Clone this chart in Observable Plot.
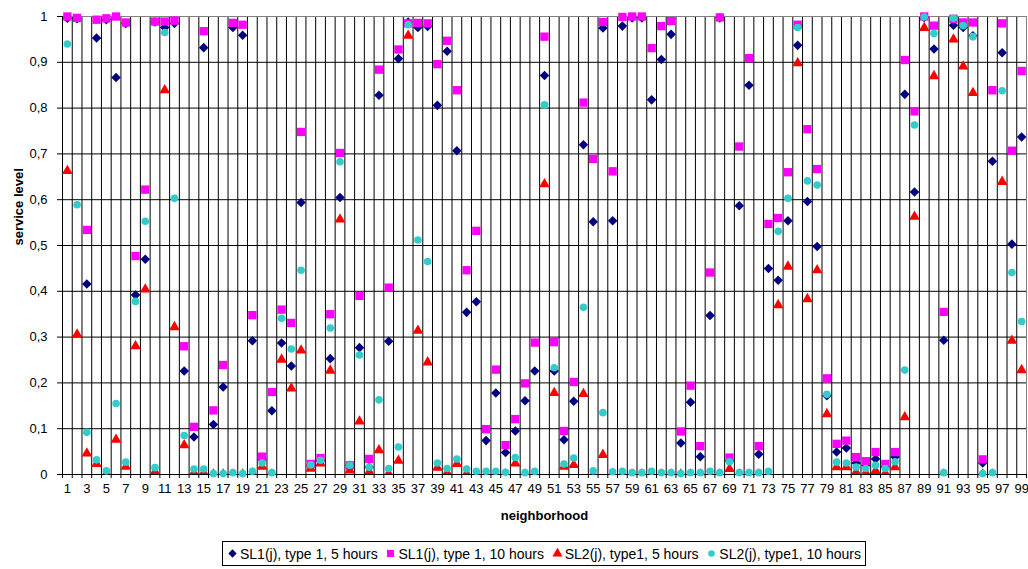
<!DOCTYPE html>
<html>
<head>
<meta charset="utf-8">
<script src="https://cdn.jsdelivr.net/npm/d3@7"></script>
<script src="https://cdn.jsdelivr.net/npm/@observablehq/plot@0.6"></script>
<style>
  html, body { margin: 0; padding: 0; background: #fff; }
  body { width: 1028px; height: 569px; overflow: hidden; font-family: "Liberation Sans", Arial, sans-serif; }
  #legend {
    position: absolute; left: 222px; top: 541px; width: 644px; height: 25px;
    border: 1px solid #000; box-sizing: border-box;
    display: flex; align-items: center; justify-content: space-between; padding: 0 4px;
    font-size: 14px; color: #000; white-space: nowrap; background: #fff;
  }
  #legend .item { display: flex; align-items: center; gap: 2px; }
  #legend svg { display: block; }
</style>
</head>
<body>
<div id="chart"></div>
<div id="legend"></div>
<script>
// Neighborhood ids 1..99
const neighborhoods = d3.range(1, 100);

// SL1(j), type 1, 5 hours
const sl1Type1_5h = [
  0.996, 0.995, 0.416, 0.953, 0.993, 0.867, 0.985, 0.392, 0.470, 0.988,
  0.976, 0.985, 0.226, 0.082, 0.932, 0.109, 0.191, 0.976, 0.959, 0.292,
  0.032, 0.139, 0.287, 0.237, 0.594, 0.020, 0.030, 0.253, 0.605, 0.020,
  0.277, 0.016, 0.828, 0.291, 0.908, 0.988, 0.976, 0.978, 0.806, 0.924,
  0.707, 0.354, 0.377, 0.074, 0.178, 0.048, 0.095, 0.161, 0.226, 0.871,
  0.226, 0.076, 0.160, 0.720, 0.552, 0.975, 0.554, 0.979, 0.997, 0.997,
  0.818, 0.906, 0.961, 0.069, 0.158, 0.039, 0.347, 0.997, 0.030, 0.587,
  0.850, 0.044, 0.450, 0.424, 0.554, 0.937, 0.596, 0.498, 0.172, 0.049,
  0.058, 0.025, 0.020, 0.034, 0.017, 0.038, 0.830, 0.617, 0.998, 0.929,
  0.293, 0.981, 0.976, 0.958, 0.025, 0.684, 0.921, 0.503, 0.737
];

// SL1(j), type 1, 10 hours
const sl1Type1_10h = [
  1.000, 0.997, 0.534, 0.993, 0.996, 1.000, 0.987, 0.477, 0.622, 0.989,
  0.989, 0.991, 0.280, 0.104, 0.968, 0.140, 0.239, 0.986, 0.982, 0.348,
  0.039, 0.180, 0.360, 0.331, 0.748, 0.023, 0.036, 0.350, 0.702, 0.020,
  0.390, 0.034, 0.884, 0.408, 0.928, 0.985, 0.986, 0.985, 0.896, 0.947,
  0.839, 0.446, 0.532, 0.099, 0.229, 0.064, 0.121, 0.199, 0.288, 0.956,
  0.289, 0.095, 0.202, 0.812, 0.689, 0.988, 0.662, 0.999, 1.000, 1.000,
  0.931, 0.979, 0.990, 0.094, 0.194, 0.062, 0.441, 0.998, 0.037, 0.716,
  0.909, 0.062, 0.547, 0.560, 0.660, 0.982, 0.754, 0.667, 0.210, 0.067,
  0.074, 0.038, 0.029, 0.049, 0.023, 0.049, 0.905, 0.793, 1.000, 0.980,
  0.355, 0.995, 0.987, 0.987, 0.033, 0.839, 0.985, 0.707, 0.881
];

// SL2(j), type1, 5 hours
const sl2Type1_5h = [
  0.663, 0.306, 0.046, 0.023, 0.002, 0.076, 0.017, 0.280, 0.404, 0.006,
  0.839, 0.322, 0.064, 0.004, 0.004, 0.000, 0.000, 0.000, 0.000, 0.002,
  0.017, 0.000, 0.251, 0.188, 0.271, 0.013, 0.024, 0.227, 0.557, 0.009,
  0.116, 0.006, 0.053, 0.002, 0.030, 0.958, 0.314, 0.245, 0.015, 0.004,
  0.023, 0.002, 0.000, 0.000, 0.000, 0.000, 0.024, 0.000, 0.000, 0.634,
  0.178, 0.017, 0.021, 0.176, 0.000, 0.043, 0.000, 0.000, 0.000, 0.000,
  0.000, 0.000, 0.000, 0.000, 0.000, 0.000, 0.000, 0.000, 0.012, 0.000,
  0.000, 0.000, 0.000, 0.370, 0.454, 0.898, 0.383, 0.446, 0.132, 0.016,
  0.016, 0.005, 0.004, 0.008, 0.003, 0.016, 0.125, 0.563, 0.975, 0.870,
  0.000, 0.950, 0.891, 0.833, 0.000, 0.000, 0.639, 0.292, 0.228
];

// SL2(j), type1, 10 hours
const sl2Type1_10h = [
  0.940, 0.589, 0.092, 0.032, 0.008, 0.155, 0.027, 0.378, 0.553, 0.015,
  0.965, 0.603, 0.085, 0.012, 0.012, 0.002, 0.002, 0.004, 0.002, 0.007,
  0.025, 0.004, 0.341, 0.274, 0.446, 0.021, 0.031, 0.320, 0.683, 0.020,
  0.261, 0.016, 0.163, 0.013, 0.060, 0.982, 0.512, 0.465, 0.025, 0.013,
  0.034, 0.012, 0.007, 0.007, 0.007, 0.005, 0.037, 0.004, 0.007, 0.807,
  0.233, 0.023, 0.036, 0.365, 0.008, 0.135, 0.006, 0.007, 0.004, 0.004,
  0.007, 0.004, 0.004, 0.002, 0.004, 0.004, 0.007, 0.004, 0.028, 0.004,
  0.004, 0.004, 0.007, 0.531, 0.603, 0.976, 0.641, 0.632, 0.175, 0.027,
  0.025, 0.016, 0.013, 0.020, 0.013, 0.028, 0.228, 0.763, 0.999, 0.963,
  0.004, 0.996, 0.980, 0.956, 0.002, 0.004, 0.838, 0.441, 0.334
];

// Axis ticks
const xTickLabels = d3.range(1, 100, 2);
const yTicks = [0, 0.1, 0.2, 0.3, 0.4, 0.5, 0.6, 0.7, 0.8, 0.9, 1];
const categoryBounds = d3.range(0.5, 100, 1);

const seriesInfo = [
  {name: "SL1(j), type 1, 5 hours",  values: sl1Type1_5h,  symbol: "diamond2", color: "#000080", r: 4.3},
  {name: "SL1(j), type 1, 10 hours", values: sl1Type1_10h, symbol: "square",   color: "#ff00ff", r: 4.7},
  {name: "SL2(j), type1, 5 hours",   values: sl2Type1_5h,  symbol: "triangle", color: "#ff0000", r: 4.0},
  {name: "SL2(j), type1, 10 hours",  values: sl2Type1_10h, symbol: "circle",   color: "#33cccc", r: 3.8}
];

const rowsOf = (values) => neighborhoods.map((n, i) => ({n, v: values[i]}));
const fmtY = (d) => d === 0 ? "0" : d === 1 ? "1" : d.toFixed(1).replace(".", ",");

const pointMarks = seriesInfo.map((s) =>
  Plot.dot(rowsOf(s.values), {
    x: "n", y: "v", symbol: s.symbol, fill: s.color, r: s.r, stroke: "none",
    clip: s.symbol === "triangle"
  })
);

const chart = Plot.plot({
  width: 1028,
  height: 532,
  marginLeft: 62,
  marginRight: 2,
  marginTop: 16,
  marginBottom: 58,
  style: {fontFamily: "'Liberation Sans', Arial, sans-serif", fontSize: "13px", color: "#000", background: "#fff"},
  x: {domain: [0.5, 99.5]},
  y: {domain: [0, 1]},
  symbol: {type: "identity"},
  marks: [
    Plot.gridX(categoryBounds, {stroke: "#000", strokeOpacity: 1, strokeWidth: 1}),
    Plot.gridY(yTicks, {stroke: "#000", strokeOpacity: 1, strokeWidth: 1}),
    Plot.frame({stroke: "#808080"}),
    Plot.ruleX([0.5], {stroke: "#000"}),
    Plot.ruleY([0], {stroke: "#000"}),
    Plot.axisY({ticks: yTicks, tickFormat: fmtY, tickSize: 5, tickPadding: 10, fontSize: 13, label: null}),
    Plot.axisX({ticks: categoryBounds, tickFormat: () => "", tickSize: 4, label: null}),
    Plot.axisX({ticks: xTickLabels, tickFormat: (d) => String(d), tickSize: 0, tickPadding: 9, fontSize: 13, label: null}),
    Plot.text(["service level"], {frameAnchor: "left", dx: -44, rotate: -90, fontWeight: "bold", fontSize: 13}),
    Plot.text(["neighborhood"], {frameAnchor: "bottom", dy: 45, fontWeight: "bold", fontSize: 13}),
    ...pointMarks
  ]
});
document.getElementById("chart").appendChild(chart);

// Legend below the plot
const legend = d3.select("#legend");
for (const s of seriesInfo) {
  const item = legend.append("div").attr("class", "item");
  const sw = item.append("svg").attr("width", 11).attr("height", 11);
  const sym = {
    diamond2: d3.symbolDiamond2, square: d3.symbolSquare,
    triangle: d3.symbolTriangle, circle: d3.symbolCircle
  }[s.symbol];
  const size = {diamond2: 44, square: 50, triangle: 44, circle: 34}[s.symbol];
  sw.append("path")
    .attr("transform", "translate(5.5,5.5)")
    .attr("d", d3.symbol(sym, size)())
    .attr("fill", s.color);
  item.append("span").text(s.name);
}
</script>
</body>
</html>
